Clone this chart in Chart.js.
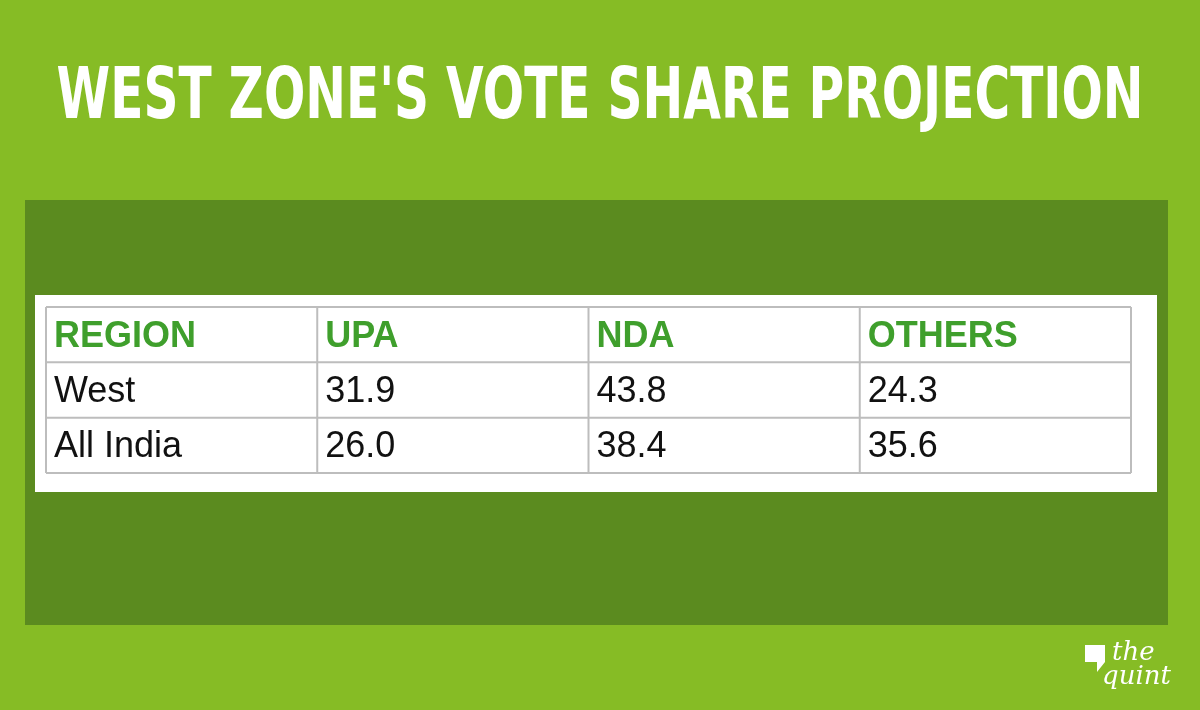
<!DOCTYPE html>
<html><head><meta charset="utf-8">
<script src="https://cdn.jsdelivr.net/npm/chart.js@4"></script>
<style>html,body{margin:0;padding:0;background:#86bc25;}#c{display:block}</style>
</head><body>
<div style="width:1200px;height:710px"><canvas id="c" width="1200" height="710"></canvas></div>
<script>
const title = "WEST ZONE'S VOTE SHARE PROJECTION";
const headers = ["REGION","UPA","NDA","OTHERS"];
const regions = ["West","All India"];
const upa = [31.9, 26.0];
const nda = [43.8, 38.4];
const others = [24.3, 35.6];

const cells = [];
headers.forEach((h,i)=>cells.push({x:i, y:0, t:h, head:true}));
regions.forEach((r,ri)=>{
  const row=[r, upa[ri].toFixed(1), nda[ri].toFixed(1), others[ri].toFixed(1)];
  row.forEach((t,i)=>cells.push({x:i, y:ri+1, t, head:false}));
});

const deco = {
  id:'deco',
  beforeDraw(chart){
    const c=chart.ctx; c.save();
    c.fillStyle='#86bc25'; c.fillRect(0,0,1200,710);
    c.fillStyle='#5b8b1f'; c.fillRect(25,200,1143,425);
    c.fillStyle='#ffffff'; c.fillRect(35,295,1122,197);
    c.fillStyle='#fff'; c.textAlign='center'; c.textBaseline='middle';
    c.font='bold 64px "DejaVu Sans Condensed","Liberation Sans Narrow",sans-serif';
    const w=c.measureText(title).width; const sx=1087/w;
    c.translate(600,100); c.scale(sx,1.1); c.fillText(title,0,0); c.restore();
    c.save(); c.fillStyle='#fff';
    c.font='italic 26px "DejaVu Serif",serif'; c.textAlign='left'; c.textBaseline='alphabetic';
    c.fillText('the',1112,660); c.fillText('quint',1102,684);
    c.beginPath(); c.moveTo(1085,645); c.lineTo(1105,645); c.lineTo(1105,662); c.lineTo(1097,672); c.lineTo(1097,662); c.lineTo(1085,662); c.closePath(); c.fill();
    c.restore();
  },
  afterDatasetsDraw(chart){
    const c=chart.ctx, xs=chart.scales.x, ys=chart.scales.y;
    c.save(); c.strokeStyle='#bdbdbd'; c.lineWidth=2;
    for(let i=0;i<=headers.length;i++){const px=xs.getPixelForValue(i-0.5);c.beginPath();c.moveTo(px,ys.getPixelForValue(-0.5));c.lineTo(px,ys.getPixelForValue(regions.length+0.5));c.stroke();}
    for(let j=0;j<=regions.length+1;j++){const py=ys.getPixelForValue(j-0.5);c.beginPath();c.moveTo(xs.getPixelForValue(-0.5),py);c.lineTo(xs.getPixelForValue(headers.length-0.5),py);c.stroke();}
    c.textAlign='left'; c.textBaseline='middle';
    const meta=chart.getDatasetMeta(0);
    meta.data.forEach((pt,k)=>{
      const d=cells[k];
      c.font=(d.head?'bold ':'')+'36px "Liberation Sans",Arial,sans-serif';
      c.fillStyle=d.head?'#3f9f2c':'#111';
      c.fillText(d.t, xs.getPixelForValue(d.x-0.5)+8, pt.y+2);
    });
    c.restore();
  }
};

new Chart(document.getElementById('c'),{
  type:'scatter',
  data:{datasets:[{data:cells.map(d=>({x:d.x,y:d.y})),pointRadius:0}]},
  options:{responsive:false,animation:false,
    layout:{padding:{left:46,right:69,top:307,bottom:237}},
    plugins:{legend:{display:false},tooltip:{enabled:false}},
    scales:{x:{display:false,min:-0.5,max:3.5},y:{display:false,min:-0.5,max:2.5,reverse:true}}},
  plugins:[deco]
});
</script></body></html>
